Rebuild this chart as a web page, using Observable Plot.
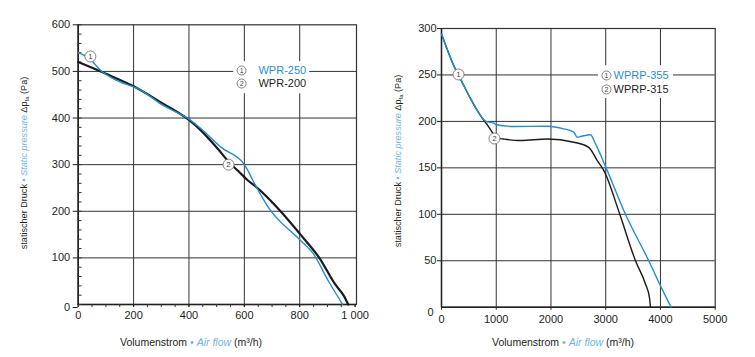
<!DOCTYPE html>
<html><head><meta charset="utf-8">
<script src="https://cdn.jsdelivr.net/npm/d3@7"></script>
<script src="https://cdn.jsdelivr.net/npm/@observablehq/plot@0.6"></script>
<style>
body{margin:0;background:#fff;font-family:"Liberation Sans",Arial,sans-serif;}
#wrap{position:relative;width:755px;height:357px;overflow:hidden;}
#left,#right{position:absolute;top:0;}
#left{left:0;} #right{left:378px;}
</style></head><body>
<div id="wrap"><div id="left"></div><div id="right"></div></div>
<script>
// ---------- data ----------
const leftNames = ["WPR-250", "WPR-200"];
const wpr250X = [0, 40, 81, 141, 226, 299, 404, 444, 516, 600, 613, 631, 686, 800, 849, 903, 955];
const wpr250Y = [540, 528, 502, 480, 460, 430, 396, 377, 337, 300, 287, 266, 209, 139, 109, 51, 0];
const wpr200X = [0, 100, 200, 300, 400, 444, 504, 553, 577, 613, 637, 734, 800, 873, 927, 960, 975];
const wpr200Y = [520, 495, 468, 433, 396, 373, 334, 300, 287, 266, 255, 198, 152, 98, 44, 18, 0];
const leftXTicks = [0, 200, 400, 600, 800, 1000];
const leftXTickLabels = ["0", "200", "400", "600", "800", "1 000"];
const leftYTicks = [0, 100, 200, 300, 400, 500, 600];

const rightNames = ["WPRP-355", "WPRP-315"];
const wprp355X = [0, 224, 378, 535, 717, 808, 960, 986, 1321, 1930, 2234, 2417, 2478, 2560, 2720, 2812, 3007, 3360, 3786, 4000, 4195];
const wprp355Y = [294, 260, 242, 224, 206, 200, 198, 196.7, 194.5, 194.8, 192, 188.4, 183, 184, 185.6, 176, 150, 100, 50, 23, 0];
const wprp315X = [0, 224, 378, 535, 717, 840, 1023, 1138, 1443, 1930, 2417, 2690, 2843, 2967, 3257, 3544, 3726, 3800, 3817];
const wprp315Y = [294, 260, 242, 224, 206, 196, 182, 181, 179.4, 181, 177.6, 172, 158, 147, 100, 50, 25, 10, 0];
const rightXTicks = [0, 1000, 2000, 3000, 4000, 5000];
const rightYTicks = [0, 50, 100, 150, 200, 250, 300];

// ---------- style ----------
const BLUE = "#1f8fd4", DARK = "#1a1a1a", LBLUE = "#6db6e3", TEXT = "#231f20", CIRC = "#666";

const pts = (xs, ys) => xs.map((x, i) => ({x, y: ys[i]}));

// grid: one rule mark per segment (same form as the minor ticks), leaving a gap at the legend
function gridMarks(xTicks, yTicks, xMax, yMax, box) {
  const marks = [];
  for (const t of xTicks) {
    if (t > box.x1 && t < box.x2) {
      marks.push(Plot.ruleX([t], {x: d => d, y1: 0, y2: box.y1, stroke: "#333"}));
      marks.push(Plot.ruleX([t], {x: d => d, y1: box.y2, y2: yMax, stroke: "#333"}));
    } else marks.push(Plot.ruleX([t], {x: d => d, y1: 0, y2: yMax, stroke: "#333"}));
  }
  for (const t of yTicks) {
    if (t > box.y1 && t < box.y2) {
      marks.push(Plot.ruleY([t], {y: d => d, x1: 0, x2: box.x1, stroke: "#333"}));
      marks.push(Plot.ruleY([t], {y: d => d, x1: box.x2, x2: xMax, stroke: "#333"}));
    } else marks.push(Plot.ruleY([t], {y: d => d, x1: 0, x2: xMax, stroke: "#333"}));
  }
  return marks;
}

function markers(list, r, fs) {
  return [
    Plot.dot(list, {x: "x", y: "y", r, fill: "white", stroke: CIRC, strokeWidth: 0.8}),
    Plot.text(list, {x: "x", y: "y", text: "n", fill: "#444", fontSize: fs})
  ];
}

function yTitle(svg, cx, cy) {
  const t = d3.select(svg).append("text")
    .attr("transform", `translate(${cx},${cy}) rotate(-90)`)
    .attr("text-anchor", "middle").attr("font-size", 9.1)
    .attr("font-family", "Liberation Sans, Arial, sans-serif");
  t.append("tspan").attr("fill", TEXT).text("statischer Druck");
  t.append("tspan").attr("fill", LBLUE).text(" • ");
  t.append("tspan").attr("fill", LBLUE).attr("font-style", "italic").text("Static pressure");
  t.append("tspan").attr("fill", TEXT).text(" Δp");
  t.append("tspan").attr("fill", TEXT).attr("font-size", 6).attr("dy", 2).text("fa");
  t.append("tspan").attr("fill", TEXT).attr("dy", -2).text(" (Pa)");
}
function xTitle(svg, cx, cy) {
  const t = d3.select(svg).append("text")
    .attr("x", cx).attr("y", cy)
    .attr("text-anchor", "middle").attr("font-size", 10.5)
    .attr("font-family", "Liberation Sans, Arial, sans-serif");
  t.append("tspan").attr("fill", TEXT).text("Volumenstrom");
  t.append("tspan").attr("fill", LBLUE).text(" • ");
  t.append("tspan").attr("fill", LBLUE).attr("font-style", "italic").text("Air flow");
  t.append("tspan").attr("fill", TEXT).text(" (m³/h)");
}

// ---------- left chart ----------
const leftMinorX = d3.range(0, 1001, 50);
const leftMinorY = d3.range(0, 601, 20);
const leftBox = {x1: 562, x2: 836, y1: 452, y2: 521};
const left = Plot.plot({
  width: 378, height: 357,
  marginLeft: 77.7, marginRight: 22, marginTop: 24.3, marginBottom: 53,
  style: {fontFamily: "Liberation Sans, Arial, sans-serif", fontSize: "11px", color: TEXT, background: "white"},
  x: {domain: [0, 1005], label: null},
  y: {domain: [0, 600], label: null},
  marks: [
    Plot.frame({fill: "none", stroke: "#333", strokeWidth: 1.2}),
    ...gridMarks(leftXTicks.filter(d => d > 0 && d < 1000), leftYTicks.filter(d => d > 0 && d < 600), 1005, 600, leftBox),
    Plot.ruleX([0], {x: d => d, y1: 0, y2: 600, stroke: "#222", strokeWidth: 1.6}),
    Plot.ruleY([0], {y: d => d, x1: 0, x2: 1005, stroke: "#222", strokeWidth: 1.6}),
    Plot.axisX({ticks: leftMinorX, tickSize: 3, tickFormat: () => "", stroke: "#333"}),
    Plot.axisX({ticks: leftXTicks, tickSize: 3, tickPadding: 4, tickFormat: d => leftXTickLabels[leftXTicks.indexOf(d)], fill: TEXT}),
    Plot.ruleY(leftMinorY, {y: d => d, x1: 0, x2: 14, stroke: "#333"}),
    Plot.axisY({ticks: leftYTicks.filter(d => d > 0), tickSize: 5, tickPadding: 3, fill: TEXT}),
    Plot.axisY({ticks: [0], tickSize: 5, tickPadding: 3, dy: 3, fill: TEXT}),
    Plot.line(pts(wpr200X, wpr200Y), {x: "x", y: "y", stroke: DARK, strokeWidth: 2.2, curve: "monotone-x"}),
    Plot.line(pts(wpr250X, wpr250Y), {x: "x", y: "y", stroke: BLUE, strokeWidth: 1.4, curve: "monotone-x"}),
    ...markers([{x: 44, y: 532, n: "1"}, {x: 543, y: 300, n: "2"}], 5.5, 8),
    ...markers([{x: 590, y: 502, n: "1"}, {x: 590, y: 474, n: "2"}], 4.5, 7),
    Plot.text([{x: 651, y: 502, t: leftNames[0], c: BLUE}, {x: 651, y: 474, t: leftNames[1], c: TEXT}],
      {x: "x", y: "y", text: "t", fill: "c", textAnchor: "start", fontSize: 11})
  ]
});
document.getElementById("left").appendChild(left);
yTitle(left, 27, 163);
xTitle(left, 191, 346);

// ---------- right chart ----------
const rightBox = {x1: 2868, x2: 4238, y1: 224.6, y2: 260};
const right = Plot.plot({
  width: 377, height: 357,
  marginLeft: 63, marginRight: 40.3, marginTop: 28, marginBottom: 50.3,
  style: {fontFamily: "Liberation Sans, Arial, sans-serif", fontSize: "11px", color: TEXT, background: "white"},
  x: {domain: [0, 5000], label: null},
  y: {domain: [0, 300], label: null},
  marks: [
    Plot.frame({fill: "none", stroke: "#333", strokeWidth: 1.2}),
    ...gridMarks(rightXTicks.filter(d => d > 0 && d < 5000), rightYTicks.filter(d => d > 0 && d < 300), 5000, 300, rightBox),
    Plot.ruleX([0], {x: d => d, y1: 0, y2: 300, stroke: "#222", strokeWidth: 1.4}),
    Plot.ruleY([0], {y: d => d, x1: 0, x2: 5000, stroke: "#222", strokeWidth: 1.4}),
    Plot.axisX({ticks: rightXTicks, tickSize: 3, tickPadding: 5, fill: TEXT, tickFormat: d => String(d)}),
    Plot.axisY({ticks: rightYTicks.filter(d => d > 0), tickSize: 4, tickPadding: 1, fill: TEXT}),
    Plot.axisY({ticks: [0], tickSize: 0, tickPadding: 8, dy: 5, fill: TEXT}),
    Plot.line(pts(wprp315X, wprp315Y), {x: "x", y: "y", stroke: DARK, strokeWidth: 1.4, curve: "monotone-x"}),
    Plot.line(pts(wprp355X, wprp355Y), {x: "x", y: "y", stroke: BLUE, strokeWidth: 1.4, curve: "monotone-x"}),
    ...markers([{x: 311, y: 250.5, n: "1"}, {x: 968, y: 181.6, n: "2"}], 5.5, 8),
    ...markers([{x: 3014, y: 249.4, n: "1"}, {x: 3014, y: 234.4, n: "2"}], 4.5, 7),
    Plot.text([{x: 3142, y: 249.4, t: rightNames[0], c: BLUE}, {x: 3142, y: 234.4, t: rightNames[1], c: TEXT}],
      {x: "x", y: "y", text: "t", fill: "c", textAnchor: "start", fontSize: 11})
  ]
});
document.getElementById("right").appendChild(right);
yTitle(right, 23, 161);
xTitle(right, 185, 346);
</script>
</body></html>
